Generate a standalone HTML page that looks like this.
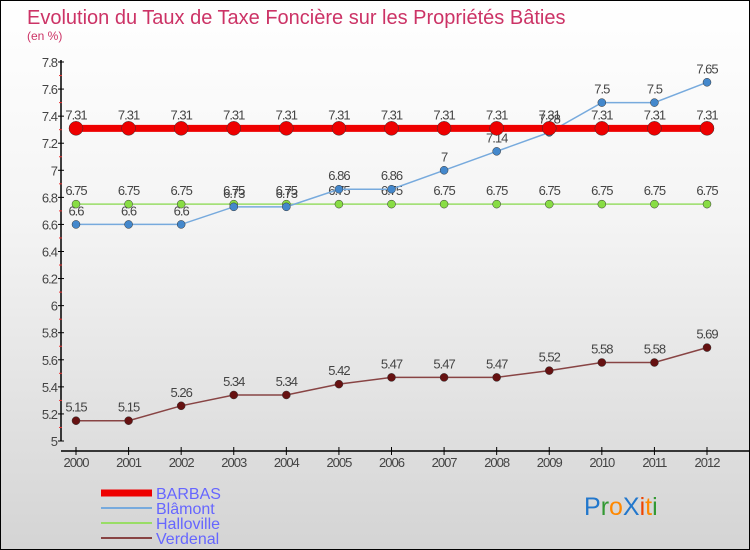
<!DOCTYPE html>
<html><head><meta charset="utf-8"><style>
body{margin:0}
#c{position:relative;width:748px;height:548px;border:1px solid #000;background:linear-gradient(#fff 0%,#f4f4f4 40%,#d4d4d4 100%);font-family:"Liberation Sans",sans-serif;overflow:hidden}
</style></head><body>
<div id="c">
<svg id="s" width="748" height="548"></svg>
</div>
<script>
const years=[2000,2001,2002,2003,2004,2005,2006,2007,2008,2009,2010,2011,2012];
const barbas=[7.31,7.31,7.31,7.31,7.31,7.31,7.31,7.31,7.31,7.31,7.31,7.31,7.31];
const blamont=[6.6,6.6,6.6,6.73,6.73,6.86,6.86,7,7.14,7.28,7.5,7.5,7.65];
const halloville=[6.75,6.75,6.75,6.75,6.75,6.75,6.75,6.75,6.75,6.75,6.75,6.75,6.75];
const verdenal=[5.15,5.15,5.26,5.34,5.34,5.42,5.47,5.47,5.47,5.52,5.58,5.58,5.69];
const yTicks=[5,5.2,5.4,5.6,5.8,6,6.2,6.4,6.6,6.8,7,7.2,7.4,7.6,7.8];
const NS='http://www.w3.org/2000/svg';
const s=document.getElementById('s');
const X=i=>75+i*(706-75)/12;
const Y=v=>440-(v-5)*(440-61)/2.8;
function el(t,a,p){const e=document.createElementNS(NS,t);for(const k in a)e.setAttribute(k,a[k]);(p||s).appendChild(e);return e;}
let t=el('text',{x:26,y:23,'font-size':20,fill:'#cc3366'});t.textContent='Evolution du Taux de Taxe Foncière sur les Propriétés Bâties';

t=el('text',{x:26,y:39,'font-size':12,fill:'#cc3366'});t.textContent='(en %)';

let ax=el('line',{x1:60,y1:59,x2:60,y2:440,stroke:'#000','stroke-width':1.5});

ax=el('line',{x1:60,y1:450,x2:748,y2:450,stroke:'#000','stroke-width':1.5});

yTicks.forEach((v,i)=>{const y=Y(v);el('line',{x1:57,y1:y,x2:63,y2:y,stroke:'#000'});
 if(i<yTicks.length-1)el('line',{x1:58,y1:Y(v+0.1),x2:61,y2:Y(v+0.1),stroke:'#e33'});
 const l=el('text',{x:56,y:y+5,'font-size':13,fill:'#444','text-anchor':'end','letter-spacing':'-1'});l.textContent=String(v);
 });
years.forEach((yr,i)=>{el('line',{x1:X(i),y1:446,x2:X(i),y2:454,stroke:'#000'});
 const l=el('text',{x:X(i),y:466,'font-size':13,fill:'#444','text-anchor':'middle','letter-spacing':'-1'});l.textContent=yr;
 });
function series(vals,col,lw,r,name,dot){
 const g=el('g',{});
 el('polyline',{points:vals.map((v,i)=>X(i)+','+Y(v)).join(' '),fill:'none',stroke:col,'stroke-width':lw},g);
 vals.forEach((v,i)=>{const c=el('circle',{cx:X(i),cy:Y(v),r:r,fill:dot,stroke:'#333','stroke-width':0.5},g);
  
  const l=el('text',{x:X(i),y:Y(v)-9,'font-size':13,fill:'#444','text-anchor':'middle','letter-spacing':'-1'},g);l.textContent=String(v);
  });
}
series(halloville,'#99dd66',1.5,4,'halloville','#88dd44');
series(blamont,'#77aadd',1.5,4,'blamont','#4488cc');
series(verdenal,'#884444',1.5,4,'verdenal','#661111');
series(barbas,'#ee0000',7,7,'barbas','#ee0000');
const leg=[['BARBAS','#ee0000',7],['Blâmont','#77aadd',2],['Halloville','#99dd66',2],['Verdenal','#884444',2]];
leg.forEach((d,i)=>{const y=492+i*15;const g=el('g',{});
 
 el('line',{x1:100,y1:y,x2:151,y2:y,stroke:d[1],'stroke-width':d[2]},g);
 const l=el('text',{x:155,y:y+6,'font-size':16,fill:'#6666ff'},g);l.textContent=d[0];});
const lg=el('text',{x:583,y:514,'font-size':25});

[['P','#2277cc'],['r','#339933'],['o','#ff8800'],['X','#2277cc'],['i','#ee4400'],['t','#ff8800'],['i','#339933']].forEach(p=>{const ts=el('tspan',{fill:p[1]},lg);ts.textContent=p[0];});
</script>
</body></html>
